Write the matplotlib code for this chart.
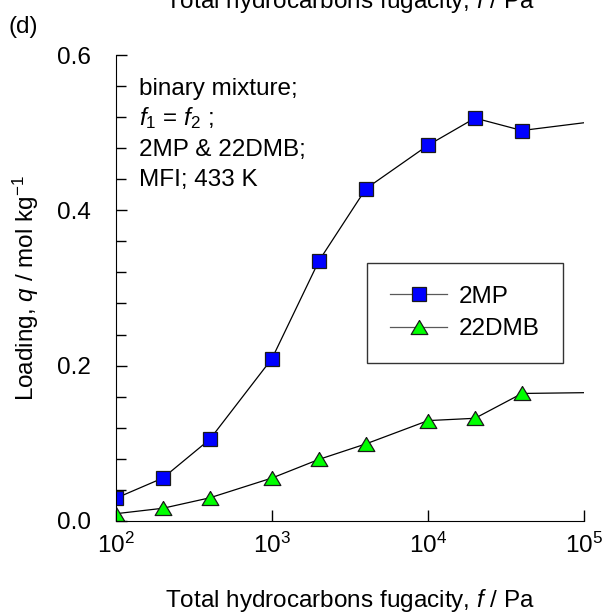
import matplotlib
matplotlib.use('Agg')
import matplotlib.pyplot as plt
from matplotlib.ticker import MultipleLocator, LogLocator, NullLocator

plt.rcParams['font.family'] = ['Liberation Sans', 'DejaVu Sans']
plt.rcParams['mathtext.fontset'] = 'custom'
plt.rcParams['mathtext.rm'] = 'Liberation Sans'
plt.rcParams['mathtext.it'] = 'Liberation Sans:italic'

# data
fugacity = [100, 200, 400, 1000, 2000, 4000, 10000, 20000, 40000, 100000]
q_2mp = [0.029, 0.055, 0.105, 0.209, 0.335, 0.428, 0.484, 0.519, 0.503, 0.513]
q_22dmb = [0.009, 0.016, 0.0295, 0.055, 0.079, 0.099, 0.129, 0.132, 0.164, 0.165]
note_lines = ['binary mixture;', r'$f_1$ = $f_2$ ;', '2MP & 22DMB;', 'MFI; 433 K']
xlabel = r'Total hydrocarbons fugacity, $f$ / Pa'
ylabel = r'Loading, $q$ / mol kg$^{-1}$'

fs = 17.5

fig = plt.figure(figsize=(6.04, 6.14), dpi=100)
ax = fig.add_axes([0.192, 0.152, 0.775, 0.758])

tri = [(0, 0.84), (-1, -0.84), (1, -0.84), (0, 0.84)]

ax.plot(fugacity, q_2mp, color='black', lw=0.9, marker='s', ms=10.5,
        mfc='#0000ff', mec='#1a1a1a', mew=0.9, markevery=slice(0, 9), label='2MP')
ax.plot(fugacity, q_22dmb, color='black', lw=0.9, marker=tri, ms=12,
        mfc='#00ff00', mec='#1a1a1a', mew=0.9, markevery=slice(0, 9), label='22DMB')

ax.set_xscale('log')
ax.set_xlim(100, 100000)
ax.set_ylim(0, 0.6)
ax.xaxis.set_major_locator(LogLocator(base=10, numticks=10))
ax.xaxis.set_minor_locator(NullLocator())
ax.yaxis.set_major_locator(MultipleLocator(0.2))
ax.yaxis.set_minor_locator(MultipleLocator(0.04))
ax.yaxis.set_major_formatter(plt.FormatStrFormatter('%.1f'))

ax.spines['top'].set_visible(False)
ax.spines['right'].set_visible(False)
ax.tick_params(which='both', direction='in', labelsize=fs, width=1)
ax.tick_params(which='major', length=8)
ax.tick_params(which='minor', length=7)
ax.tick_params(axis='y', pad=18)
ax.tick_params(axis='x', pad=9)

ax.set_xlabel(xlabel, fontsize=fs)
ax.xaxis.set_label_coords(0.5, -0.142)
ax.set_ylabel(ylabel, fontsize=fs)
ax.yaxis.set_label_coords(-0.16, 0.5)

ys = [0.914, 0.850, 0.783, 0.719]
for line, y in zip(note_lines, ys):
    ax.text(0.049, y, line, transform=ax.transAxes, fontsize=fs, va='baseline')

leg = ax.legend(loc='upper left', bbox_to_anchor=(0.536, 0.554), borderaxespad=0,
                fontsize=fs, frameon=True, fancybox=False, handlelength=2.35,
                borderpad=0.95, labelspacing=0.42, handletextpad=0.5)
leg.get_frame().set_edgecolor('black')
leg.get_frame().set_linewidth(1)
for h in leg.get_lines():
    h.set_color('0.35')

# panel tag and clipped label from the panel above
fig.text(8 / 604, 1 - 33 / 614, '(d)', fontsize=fs, va='baseline')
fig.text(350 / 604, 1 - 8 / 614, xlabel, fontsize=fs, ha='center', va='baseline')

fig.savefig('out.png', dpi=100)
